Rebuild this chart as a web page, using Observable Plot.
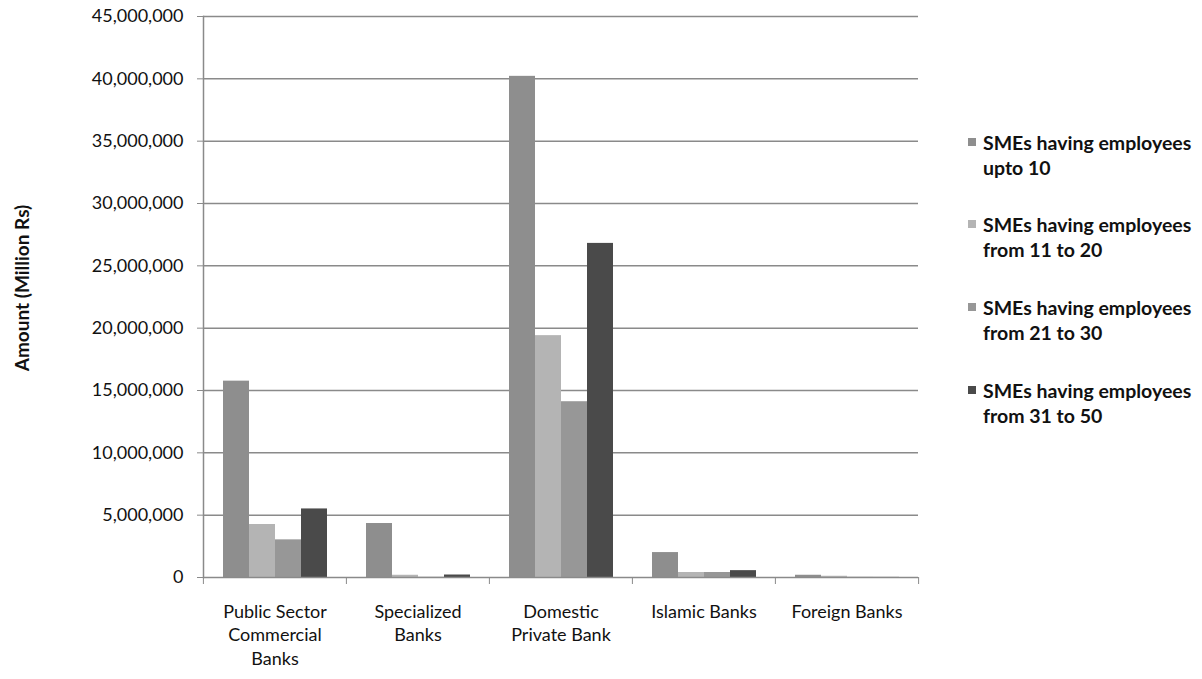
<!DOCTYPE html>
<html>
<head>
<meta charset="utf-8">
<script src="https://cdn.jsdelivr.net/npm/d3@7"></script>
<script src="https://cdn.jsdelivr.net/npm/@observablehq/plot@0.6"></script>
<style>
  html, body { margin: 0; padding: 0; background: #fff; }
  #wrap { position: relative; width: 1202px; height: 679px; overflow: hidden; font-family: Lato, "Open Sans", sans-serif; }
  #chart { position: absolute; left: 0; top: 0; }
  #ytitle { position: absolute; left: 21px; top: 288px; transform: translate(-50%, -50%) rotate(-90deg);
            white-space: nowrap; font-size: 19px; font-weight: 700; color: #111; }
  .item { position: absolute; left: 968px; font-size: 19.5px; font-weight: 700; line-height: 25px; color: #111; }
  .item .sw { position: absolute; left: 0; top: 8px; width: 8px; height: 8px; }
  .item .tx { position: absolute; left: 15px; top: 0; white-space: nowrap; }
</style>
</head>
<body>
<div id="wrap">
  <div id="chart"></div>
  <div id="ytitle">Amount (Million Rs)</div>
  <div id="legend"></div>
</div>
<script>
// Bank groups (x categories) and the four SME size bands
const categories = ["Public Sector\nCommercial\nBanks", "Specialized\nBanks", "Domestic\nPrivate Bank", "Islamic Banks", "Foreign Banks"];
const seriesNames = [
  "SMEs having employees\nupto 10",
  "SMEs having employees\nfrom 11 to 20",
  "SMEs having employees\nfrom 21 to 30",
  "SMEs having employees\nfrom 31 to 50"
];
const seriesColors = ["#8e8e8e", "#b4b4b4", "#979797", "#4a4a4a"];

// Amounts (Million Rs), one value per bank group
const upto10     = [15750000, 4330000, 40200000, 2000000, 180000];
const from11to20 = [4250000,  180000, 19400000,  400000, 100000];
const from21to30 = [3020000,   20000, 14100000,  400000,  20000];
const from31to50 = [5500000,  200000, 26800000,  550000,  10000];

const yTicks = [0, 5000000, 10000000, 15000000, 20000000, 25000000, 30000000, 35000000, 40000000, 45000000];

const seriesValues = [upto10, from11to20, from21to30, from31to50];
const rows = categories.flatMap((c, i) =>
  seriesNames.map((s, j) => ({category: c, series: s, value: seriesValues[j][i]}))
);

const W = 940, H = 679, ML = 202, MR = 22, MT = 16, MB = 102;
const step = (W - ML - MR) / categories.length;
const gridColor = "#8a8a8a";

const plot = Plot.plot({
  width: W, height: H,
  marginLeft: ML, marginRight: MR, marginTop: MT, marginBottom: MB,
  style: {fontFamily: "Lato, 'Open Sans', sans-serif", fontSize: "18px", color: "#111", background: "#fff", overflow: "visible"},
  fx: {domain: categories, padding: 0, label: null, axis: null},
  x: {domain: seriesNames, paddingInner: 0, paddingOuter: 0.75, axis: null},
  y: {domain: [0, 45000000], label: null, axis: null},
  color: {domain: seriesNames, range: seriesColors},
  marks: [
    Plot.ruleY(yTicks.slice(1), {stroke: gridColor, strokeWidth: 1.5}),
    Plot.barY(rows, {fx: "category", x: "series", y: "value", fill: "series", inset: 0}),
    Plot.ruleY([0], {stroke: gridColor, strokeWidth: 1.5}),
    Plot.frame({anchor: "left", facetAnchor: "left", stroke: gridColor, strokeWidth: 1.5}),
    Plot.axisY({ticks: yTicks, tickFormat: d3.format(","), tickSize: 6, tickPadding: 14, label: null, stroke: gridColor, fill: "#111"}),
    // boundary ticks between bank groups
    Plot.axisFx({anchor: "bottom", tickSize: 7, tickFormat: () => "", dx: -step / 2, label: null, stroke: gridColor}),
    Plot.axisFx({anchor: "bottom", ticks: [categories[categories.length - 1]], tickSize: 7, tickFormat: () => "", dx: step / 2, label: null, stroke: gridColor}),
    // group labels
    Plot.axisFx({anchor: "bottom", tickSize: 0, tickPadding: 23, lineHeight: 1.33, label: null, fill: "#111"})
  ]
});
document.getElementById("chart").appendChild(plot);

// Legend beside the chart
const legend = document.getElementById("legend");
const itemTops = [130, 212, 295, 378];
seriesNames.forEach((s, j) => {
  const d = document.createElement("div");
  d.className = "item";
  d.style.top = itemTops[j] + "px";
  const sw = document.createElement("div");
  sw.className = "sw";
  sw.style.background = seriesColors[j];
  const tx = document.createElement("div");
  tx.className = "tx";
  tx.innerHTML = s.split("\n").join("<br>");
  d.appendChild(sw); d.appendChild(tx);
  legend.appendChild(d);
});
</script>
</body>
</html>
